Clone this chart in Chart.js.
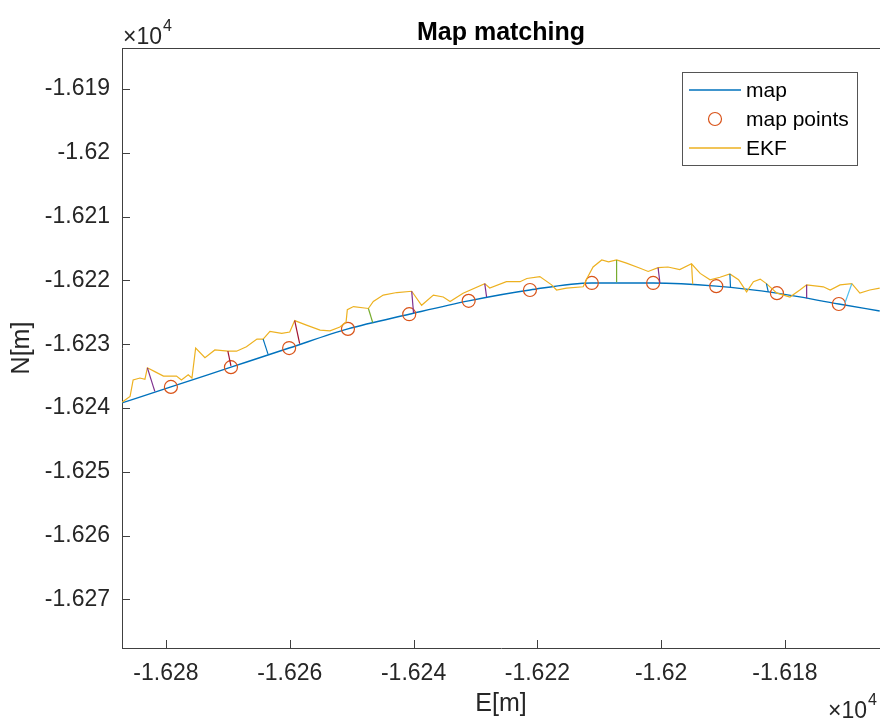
<!DOCTYPE html>
<html>
<head>
<meta charset="utf-8">
<script src="https://cdn.jsdelivr.net/npm/chart.js@4.4.1/dist/chart.umd.min.js"></script>
<style>
  html, body { margin: 0; padding: 0; background: #fff; }
  #wrap { width: 880px; height: 720px; }
</style>
</head>
<body>
<div id="wrap"><canvas id="chart" width="880" height="720"></canvas></div>
<script>
// road map (smooth line) and the points used for matching
const mapE = [-16287.1, -16279.2, -16269.5, -16260.1, -16250.6, -16240.7, -16231.1, -16221.2, -16211.2, -16201.3, -16191.1, -16181.3, -16171.3, -16164.7];
const mapN = [-16239.2, -16236.7, -16233.6, -16230.6, -16227.6, -16225.3, -16223.2, -16221.5, -16220.4, -16220.4, -16220.9, -16222.0, -16223.7, -16224.8];

const mapPtE = [-16279.2, -16269.5, -16260.1, -16250.6, -16240.7, -16231.1, -16221.2, -16211.2, -16201.3, -16191.1, -16181.3, -16171.3];
const mapPtN = [-16236.7, -16233.6, -16230.6, -16227.6, -16225.3, -16223.2, -16221.5, -16220.4, -16220.4, -16220.9, -16222.0, -16223.7];

// EKF track
const ekfE = [-16287.1, -16285.8, -16285.3, -16284.2, -16283.4, -16283.0, -16281.8, -16280.4, -16278.3, -16277.5,
  -16276.4, -16275.8, -16275.2, -16273.7, -16272.1, -16270.0, -16268.6, -16267.0, -16265.3, -16264.3,
  -16263.2, -16261.3, -16260.0, -16259.2, -16257.3, -16255.1, -16253.5, -16251.9, -16250.9, -16250.7,
  -16249.7, -16247.3, -16246.5, -16244.9, -16242.7, -16240.3, -16238.7, -16236.8, -16235.2, -16234.1,
  -16232.0, -16228.5, -16227.7, -16225.0, -16222.8, -16221.7, -16219.6, -16217.7, -16216.9, -16215.3,
  -16212.6, -16212.0, -16211.0, -16209.6, -16208.5, -16207.2, -16205.6, -16203.4, -16202.1, -16200.5,
  -16198.9, -16197.0, -16195.1, -16193.7, -16192.1, -16190.5, -16188.9, -16187.5, -16186.2, -16185.1,
  -16184.0, -16183.0, -16181.3, -16179.2, -16177.6, -16176.5, -16173.8, -16172.7, -16171.1, -16169.2,
  -16167.9, -16166.3, -16164.7];
const ekfN = [-16239.1, -16238.2, -16235.6, -16235.3, -16235.5, -16233.7, -16234.3, -16235.0, -16235.0, -16235.6,
  -16234.8, -16235.3, -16230.6, -16232.1, -16230.9, -16231.1, -16231.1, -16230.4, -16229.2, -16229.2,
  -16228.0, -16228.3, -16228.1, -16226.3, -16227.0, -16227.8, -16227.9, -16227.3, -16226.5, -16224.6,
  -16224.1, -16224.4, -16223.3, -16222.3, -16221.9, -16221.7, -16223.9, -16222.3, -16222.6, -16223.3,
  -16222.0, -16220.5, -16221.2, -16220.2, -16220.2, -16219.7, -16219.4, -16220.7, -16221.5, -16221.2,
  -16221.0, -16219.7, -16217.9, -16216.8, -16217.1, -16216.8, -16217.3, -16218.1, -16218.6, -16218.0,
  -16217.9, -16218.3, -16217.4, -16218.9, -16219.9, -16219.5, -16219.0, -16219.9, -16221.8, -16220.2,
  -16219.8, -16220.5, -16222.0, -16222.6, -16221.5, -16220.7, -16221.0, -16221.5, -16220.7, -16220.5,
  -16222.0, -16221.5, -16221.2];

// projections EKF -> map (start on EKF, end on map)
const projE0 = [-16283.0, -16270.0, -16264.3, -16259.2, -16247.3, -16240.3, -16228.5, -16207.2, -16200.5, -16195.1, -16188.9, -16183.0, -16176.5, -16169.2];
const projN0 = [-16233.7, -16231.1, -16229.2, -16226.3, -16224.4, -16221.7, -16220.5, -16216.8, -16218.0, -16217.4, -16219.0, -16220.5, -16220.7, -16220.5];
const projE1 = [-16281.8, -16269.5, -16263.5, -16258.4, -16246.6, -16240.0, -16228.2, -16207.2, -16200.2, -16194.9, -16188.8, -16182.7, -16176.5, -16170.3];
const projN1 = [-16237.4, -16233.4, -16231.6, -16229.9, -16226.6, -16225.1, -16222.6, -16220.3, -16220.4, -16220.6, -16221.1, -16221.8, -16222.8, -16223.5];

const xTicks = [-16280, -16260, -16240, -16220, -16200, -16180];
const yTicks = [-16270, -16260, -16250, -16240, -16230, -16220, -16210, -16200, -16190];

// colours of the projection lines (matlab default order)
const segColors = ["#7E2F8E", "#A2142F", "#0072BD", "#A2142F", "#77AC30", "#7E2F8E", "#7E2F8E",
  "#77AC30", "#7E2F8E", "#EDB120", "#0072BD", "#0072BD", "#7E2F8E", "#4DBEEE"];

const FONT = "'Liberation Sans', Arial, Helvetica, sans-serif";
const AXC = "#404040";

function pts(xs, ys) {
  return xs.map((v, i) => ({ x: v, y: ys[i] }));
}
function fmt(v) {
  return String(+(v / 1e4).toFixed(4));
}

const datasets = [];
projE0.forEach((e, i) => {
  datasets.push({
    data: [{ x: e, y: projN0[i] }, { x: projE1[i], y: projN1[i] }],
    showLine: true,
    borderColor: segColors[i],
    borderWidth: 1.2,
    pointRadius: 0,
  });
});
datasets.push({
  label: "EKF",
  data: pts(ekfE, ekfN),
  showLine: true,
  borderColor: "#EDB120",
  borderWidth: 1.2,
  pointRadius: 0,
});
datasets.push({
  label: "map points",
  data: pts(mapPtE, mapPtN),
  showLine: false,
  pointRadius: 6.5,
  pointBorderWidth: 1.2,
  pointBorderColor: "#D95319",
  pointBackgroundColor: "rgba(0,0,0,0)",
});
datasets.push({
  label: "map",
  data: pts(mapE, mapN),
  showLine: true,
  borderColor: "#0072BD",
  borderWidth: 1.4,
  pointRadius: 0,
  cubicInterpolationMode: "monotone",
});

// title, exponents, inward ticks, top box line and legend
const decor = {
  id: "decor",
  afterDraw(chart) {
    const { ctx, chartArea: a, scales } = chart;
    const x = scales.x, y = scales.y;
    ctx.save();
    ctx.strokeStyle = AXC;
    ctx.lineWidth = 1;
    ctx.beginPath();
    ctx.moveTo(a.left, a.top + 0.5);
    ctx.lineTo(a.right, a.top + 0.5);
    xTicks.forEach(v => {
      const px = Math.round(x.getPixelForValue(v)) + 0.5;
      ctx.moveTo(px, a.bottom);
      ctx.lineTo(px, a.bottom - 8);
    });
    yTicks.forEach(v => {
      const py = Math.round(y.getPixelForValue(v)) + 0.5;
      ctx.moveTo(a.left, py);
      ctx.lineTo(a.left + 8, py);
    });
    ctx.stroke();

    ctx.fillStyle = "#000";
    ctx.textBaseline = "alphabetic";
    ctx.textAlign = "center";
    ctx.font = "bold 25px " + FONT;
    ctx.fillText("Map matching", (a.left + a.right) / 2, 40);

    ctx.fillStyle = "#262626";
    ctx.textAlign = "left";
    ctx.font = "23px " + FONT;
    ctx.fillText("\u00d710", 123, 44);
    ctx.font = "16px " + FONT;
    ctx.fillText("4", 163, 31);
    ctx.textAlign = "right";
    ctx.font = "23px " + FONT;
    ctx.fillText("\u00d710", 867, 718);
    ctx.textAlign = "left";
    ctx.font = "16px " + FONT;
    ctx.fillText("4", 868, 705);

    // legend
    const lx = 682.5, ly = 72.5, lw = 175, lh = 93;
    ctx.fillStyle = "#fff";
    ctx.fillRect(lx, ly, lw, lh);
    ctx.strokeStyle = "#555";
    ctx.strokeRect(lx, ly, lw, lh);
    const rows = [
      { t: "map", c: "#0072BD", kind: "line", yy: 90 },
      { t: "map points", c: "#D95319", kind: "circle", yy: 119 },
      { t: "EKF", c: "#EDB120", kind: "line", yy: 148 },
    ];
    ctx.font = "21px " + FONT;
    ctx.textBaseline = "middle";
    rows.forEach(r => {
      ctx.strokeStyle = r.c;
      ctx.lineWidth = r.kind === "line" ? 1.5 : 1.2;
      ctx.beginPath();
      if (r.kind === "line") {
        ctx.moveTo(689, r.yy);
        ctx.lineTo(741, r.yy);
      } else {
        ctx.arc(715, r.yy, 6.5, 0, Math.PI * 2);
      }
      ctx.stroke();
      ctx.fillStyle = "#000";
      ctx.fillText(r.t, 746, r.yy + 1);
    });
    ctx.restore();
  },
};

new Chart(document.getElementById("chart"), {
  type: "scatter",
  data: { datasets: datasets },
  options: {
    responsive: false,
    animation: false,
    layout: { autoPadding: false, padding: { top: 48, left: 0, right: 0, bottom: 0 } },
    plugins: {
      legend: { display: false },
      title: { display: false },
      tooltip: { enabled: false },
    },
    scales: {
      x: {
        type: "linear",
        min: -16287.1,
        max: -16164.65,
        afterBuildTicks: s => { s.ticks = xTicks.map(v => ({ value: v })); },
        afterFit: s => { s.height = 72; s.paddingLeft = 0; s.paddingRight = 0; },
        grid: { display: false, drawTicks: false },
        border: { display: true, color: AXC, width: 1 },
        ticks: {
          callback: v => fmt(v),
          font: { family: FONT, size: 23 },
          color: "#262626",
          padding: 12,
          maxRotation: 0,
          autoSkip: false,
        },
        title: {
          display: true,
          text: "E[m]",
          font: { family: FONT, size: 25 },
          color: "#262626",
          padding: { top: 0, bottom: 1 },
        },
      },
      y: {
        type: "linear",
        min: -16277.62,
        max: -16183.57,
        afterBuildTicks: s => { s.ticks = yTicks.map(v => ({ value: v })); },
        afterFit: s => { s.width = 122; s.paddingTop = 0; s.paddingBottom = 0; },
        grid: { display: false, drawTicks: false },
        border: { display: true, color: AXC, width: 1 },
        ticks: {
          callback: v => fmt(v),
          font: { family: FONT, size: 23 },
          color: "#262626",
          padding: 12,
          autoSkip: false,
        },
        title: {
          display: true,
          text: "N[m]",
          font: { family: FONT, size: 25 },
          color: "#262626",
          padding: { top: 7, bottom: 0 },
        },
      },
    },
  },
  plugins: [decor],
});
</script>
</body>
</html>
